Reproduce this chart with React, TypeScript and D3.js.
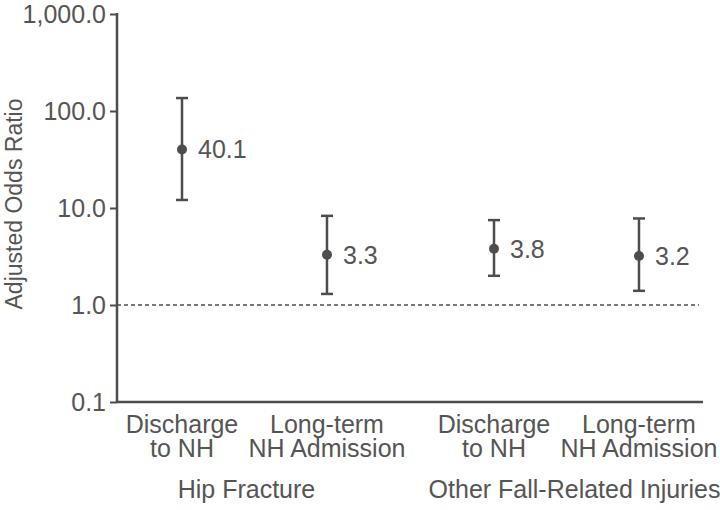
import React, { useEffect, useRef } from 'react';
import * as d3 from 'd3';

// groups and categories as in the figure
const groups = ['Hip Fracture', 'Other Fall-Related Injuries'];
const outcomes = ['Discharge to NH', 'Long-term NH Admission'];
const outcomeLines = [['Discharge', 'to NH'], ['Long-term', 'NH Admission']];

// adjusted odds ratios with 95% CI
const estimates = [40.1, 3.3, 3.8, 3.2];
const lower = [12.1, 1.3, 2.0, 1.4];
const upper = [136, 8.3, 7.5, 7.8];

const yTicks = [0.1, 1, 10, 100, 1000];

const FONT = 'Liberation Sans, Arial, Helvetica, sans-serif';
const INK = '#4d4d4d';
const TEXT = '#555555';

const App = () => {
  const svgRef = useRef<SVGSVGElement>(null);

  useEffect(() => {
    const width = 720;
    const height = 510;
    const axisX = 117;

    const svg = d3.select(svgRef.current);
    svg.selectAll('*').remove();

    const y = d3.scaleLog().domain([0.1, 1000]).range([402, 14]);

    // outer band per group, inner point scale per outcome
    const xGroup = d3.scaleBand().domain(groups).range([98.5, 722.5]).padding(0);
    const xInner = d3.scalePoint().domain(outcomes).range([0, xGroup.bandwidth()]).padding(0.576);

    const rows = estimates.map((v, i) => ({
      group: groups[Math.floor(i / 2)],
      outcome: outcomes[i % 2],
      lines: outcomeLines[i % 2],
      est: v,
      lo: lower[i],
      hi: upper[i],
    }));
    const cx = (d: any) => (xGroup(d.group) as number) + (xInner(d.outcome) as number);

    // reference line at OR = 1
    svg.append('line')
      .attr('x1', axisX)
      .attr('x2', 699)
      .attr('y1', y(1))
      .attr('y2', y(1))
      .attr('stroke', INK)
      .attr('stroke-width', 1.6)
      .attr('stroke-dasharray', '4,3');

    // y axis
    const yAxis = svg.append('g')
      .attr('transform', `translate(${axisX},0)`)
      .call(d3.axisLeft(y).tickValues(yTicks).tickSize(7).tickPadding(4)
        .tickFormat(d => d3.format(',.1f')(d as number)));
    yAxis.select('.domain').remove();
    yAxis.selectAll('line').attr('stroke', INK).attr('stroke-width', 2);
    yAxis.selectAll('text')
      .attr('font-family', FONT)
      .attr('font-size', '25px')
      .attr('fill', TEXT);

    svg.append('line')
      .attr('x1', axisX).attr('x2', axisX)
      .attr('y1', y(1000) - 1).attr('y2', y(0.1) + 1)
      .attr('stroke', INK).attr('stroke-width', 2.5);

    // x axis line (no ticks)
    svg.append('line')
      .attr('x1', axisX).attr('x2', 703)
      .attr('y1', y(0.1)).attr('y2', y(0.1))
      .attr('stroke', INK).attr('stroke-width', 2.5);

    // error bars
    const bars = svg.append('g').selectAll('g').data(rows).enter().append('g');
    bars.append('line')
      .attr('x1', cx).attr('x2', cx)
      .attr('y1', d => y(d.lo)).attr('y2', d => y(d.hi))
      .attr('stroke', INK).attr('stroke-width', 2.5);
    bars.selectAll('.cap')
      .data(d => [d.lo, d.hi].map(v => ({ v, x: cx(d) })))
      .enter()
      .append('line')
      .attr('x1', d => d.x - 6).attr('x2', d => d.x + 6)
      .attr('y1', d => y(d.v)).attr('y2', d => y(d.v))
      .attr('stroke', INK).attr('stroke-width', 2.5);
    bars.append('circle')
      .attr('cx', cx)
      .attr('cy', d => y(d.est))
      .attr('r', 5)
      .attr('fill', INK);
    bars.append('text')
      .attr('x', d => cx(d) + 16)
      .attr('y', d => y(d.est))
      .attr('dy', '0.36em')
      .attr('font-family', FONT)
      .attr('font-size', '25px')
      .attr('fill', TEXT)
      .text(d => d3.format('.1f')(d.est));

    // category labels
    const cat = svg.append('g').selectAll('text').data(rows).enter()
      .append('text')
      .attr('text-anchor', 'middle')
      .attr('font-family', FONT)
      .attr('font-size', '25px')
      .attr('fill', TEXT);
    cat.selectAll('tspan')
      .data(d => d.lines.map((t, k) => ({ t, k, x: cx(d) })))
      .enter()
      .append('tspan')
      .attr('x', d => d.x)
      .attr('y', d => 433 + d.k * 24)
      .text(d => d.t);

    // group labels
    svg.append('g').selectAll('text').data(groups).enter()
      .append('text')
      .attr('x', (d, i) => (xGroup(d) as number) + xGroup.bandwidth() / 2 + (i === 0 ? -8 : 8))
      .attr('y', 498)
      .attr('text-anchor', 'middle')
      .attr('font-family', FONT)
      .attr('font-size', '25px')
      .attr('fill', TEXT)
      .text(d => d);

    // y axis title
    svg.append('text')
      .attr('transform', `translate(22,204) rotate(-90)`)
      .attr('text-anchor', 'middle')
      .attr('font-family', FONT)
      .attr('font-size', '23px')
      .attr('fill', TEXT)
      .text('Adjusted Odds Ratio');

    svg.attr('width', width).attr('height', height);
  }, []);

  return (
    <svg
      ref={svgRef}
      width={720}
      height={510}
      style={{ position: 'absolute', left: 0, top: 0, background: 'white', display: 'block' }}
    />
  );
};

export default App;
